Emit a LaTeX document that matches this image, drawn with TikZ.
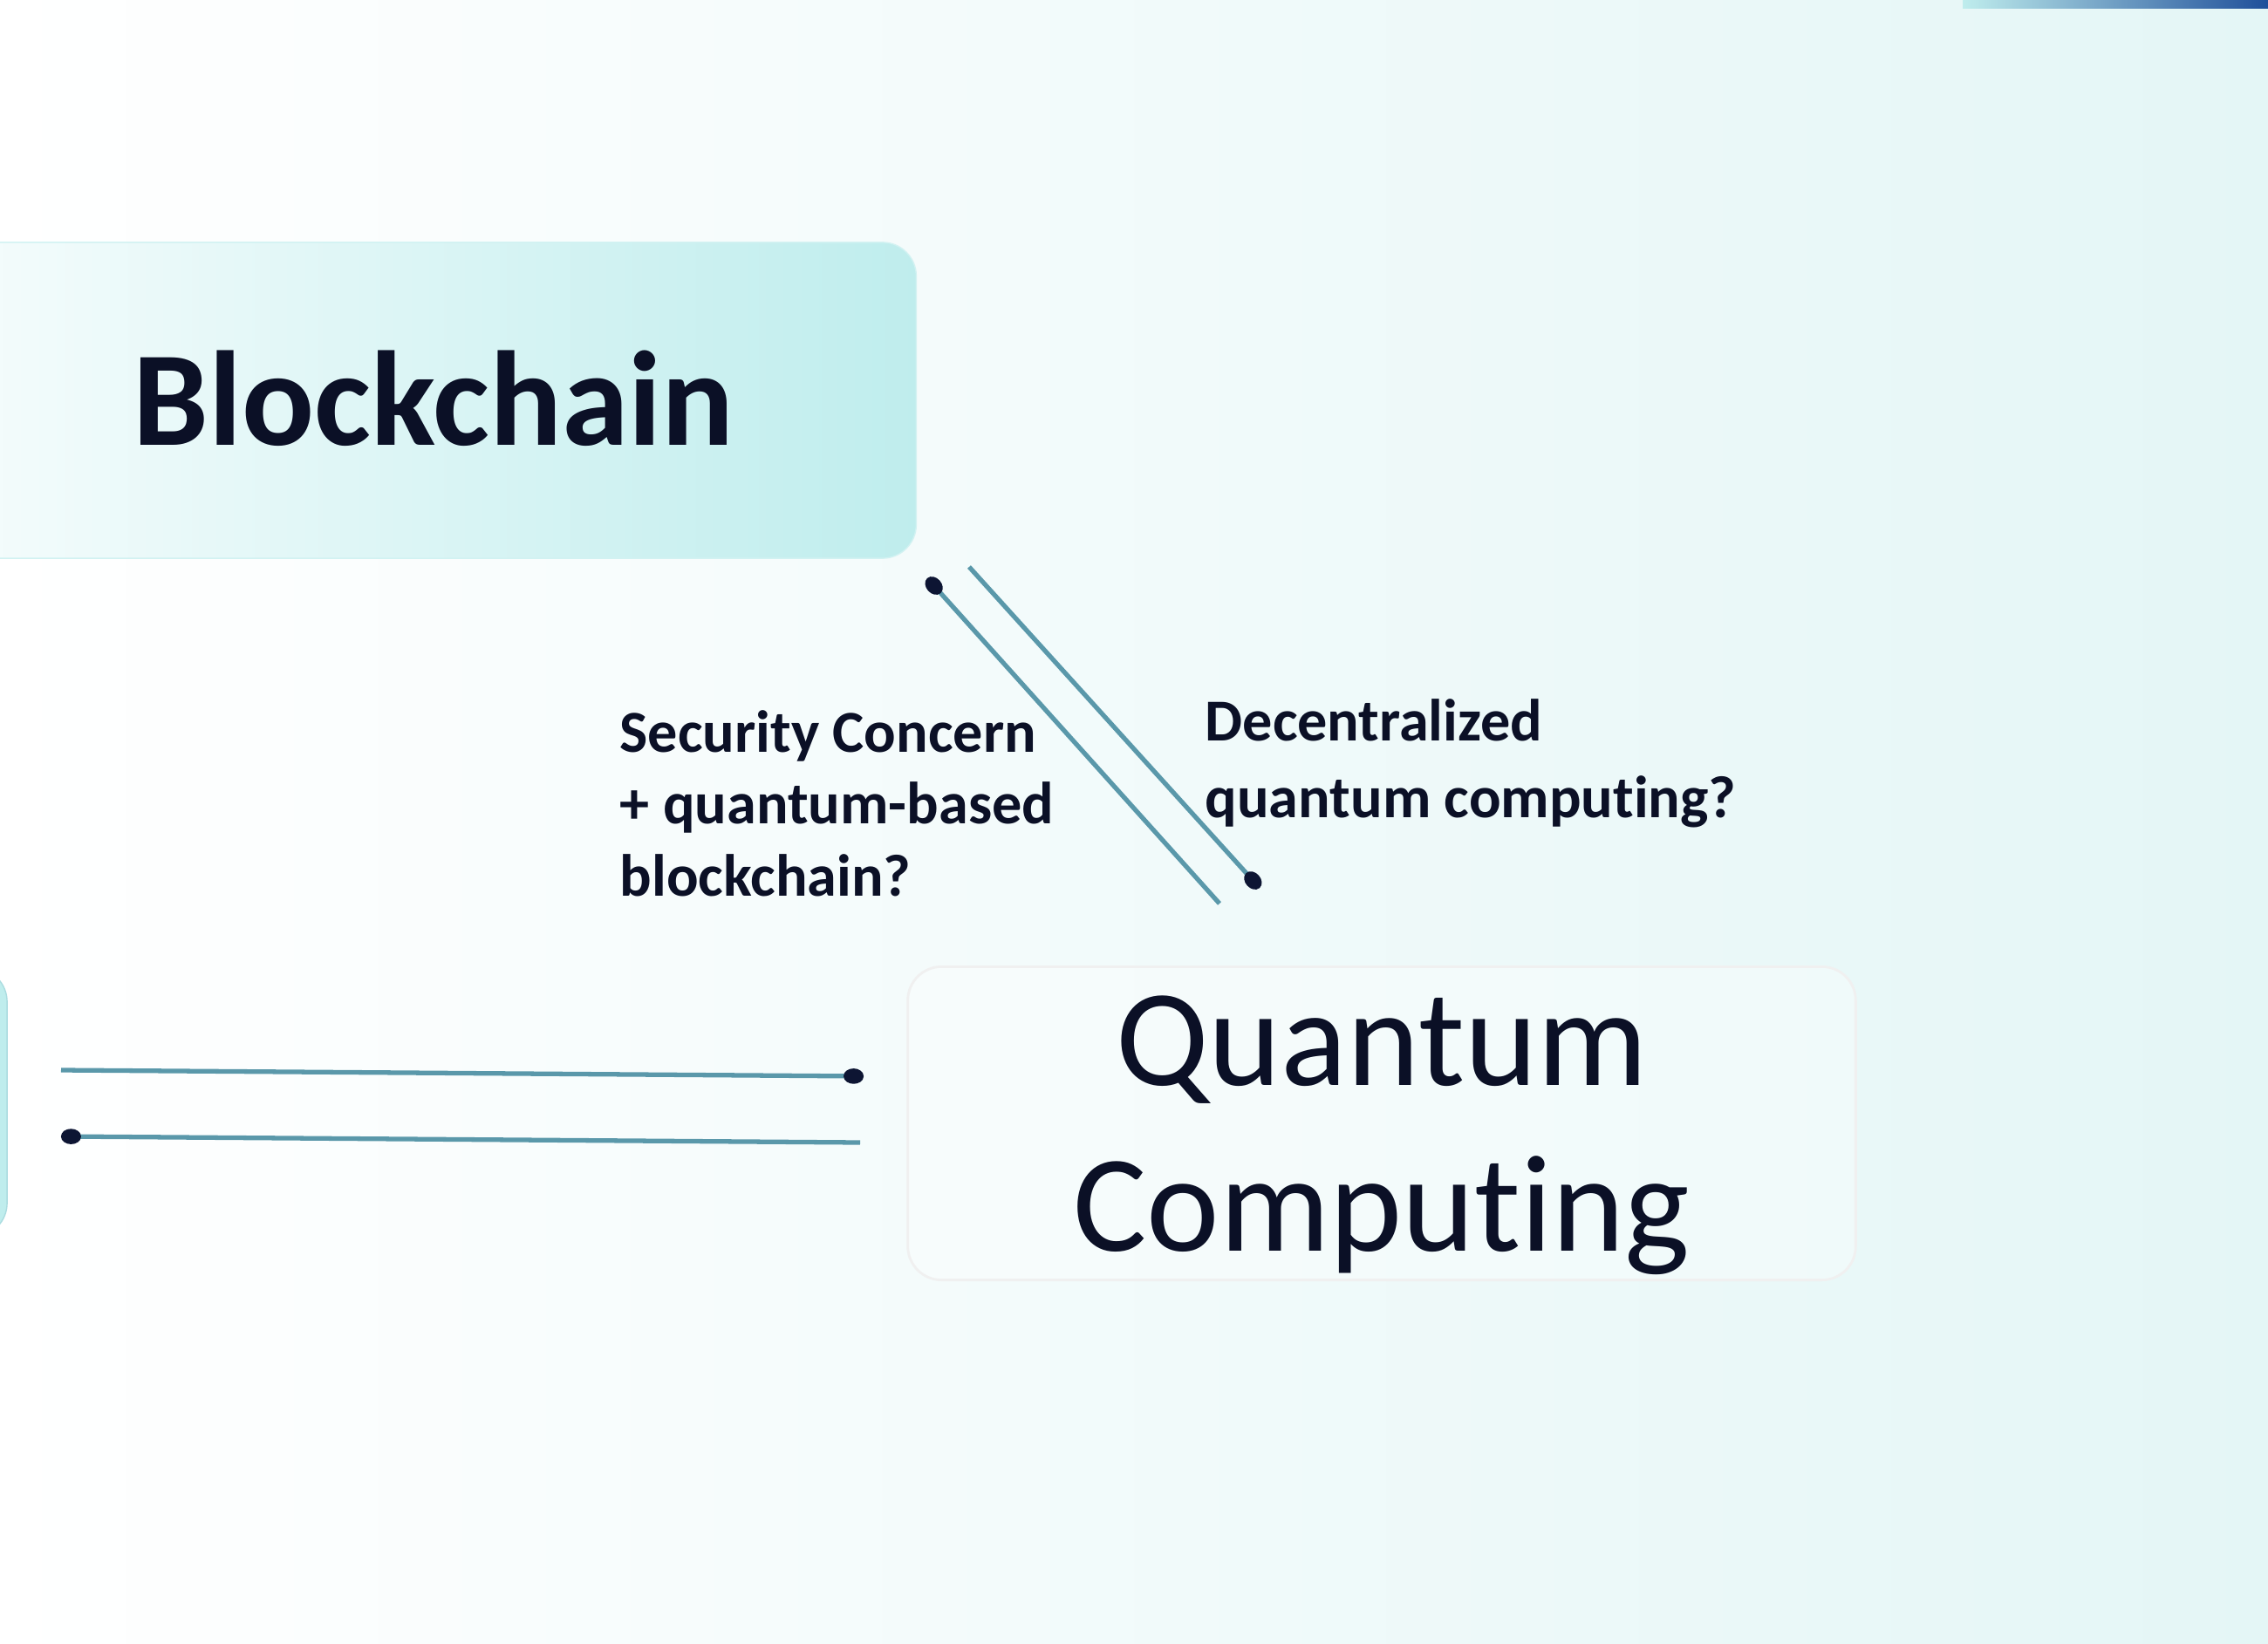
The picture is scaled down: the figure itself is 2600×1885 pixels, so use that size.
\documentclass[tikz,border=0pt]{standalone}
\usepackage{fontspec}
\setmainfont{Carlito}[Ligatures=NoCommon]
\usetikzlibrary{arrows.meta,shadings}
\definecolor{ink}{HTML}{0B1026}
\definecolor{linec}{HTML}{5A98AA}
\definecolor{dotc}{HTML}{0D1533}
\definecolor{boxcyan}{HTML}{BFEDED}
\definecolor{bgright}{HTML}{E4F6F6}
\definecolor{barblue}{HTML}{1F4F9A}
\begin{document}
\begin{tikzpicture}[x=0.01cm,y=-0.01cm,
  conn/.style={line width=1.5pt, draw=linec, -{Circle[length=6.5pt,width=5pt,fill=dotc,color=dotc]}},
  bigtext/.style={text=ink, inner sep=0pt, font=\fontsize{45}{54}\selectfont},
  labeltext/.style={text=ink, inner sep=0pt, align=left, font=\bfseries\fontsize{19.4}{23.4}\selectfont},
  roundbox/.style={rectangle, rounded corners=11pt, inner sep=0pt}]
\useasboundingbox (0,0) rectangle (2600,1885);
\clip (0,0) rectangle (2600,1885);
\shade[left color=white, right color=bgright] (0,0) rectangle (2600,1885);
\shade[left color=boxcyan, right color=barblue] (2250,0) rectangle (2600,10);

% boxes
\node[roundbox, left color=white, middle color=white!55!boxcyan, right color=boxcyan, draw=boxcyan!70!white,
      minimum width=13cm, minimum height=3.62cm] (bcbox) at (400,459) {};
\node[bigtext, font=\bfseries\fontsize{44}{53}\selectfont] (bc) at (497,457) {Blockchain};

\node[roundbox, fill=white, fill opacity=0.35, draw=gray!12, line width=0.8pt,
      minimum width=10.86cm, minimum height=3.59cm] (qcbox) at (1584,1288) {};
\node[bigtext, align=center] (qc) at (1584,1302) {Quantum\\Computing};

\node[roundbox, fill=boxcyan, draw=boxcyan!80!linec, minimum width=4cm, minimum height=3.08cm] (lbox) at (-192,1264) {};

% connector end points
\coordinate (d1s) at (1398,1036);
\coordinate (d1e) at (1063,663);
\coordinate (d2s) at (1111,650);
\coordinate (d2e) at (1444,1018);
\coordinate (h1s) at (70,1227);
\coordinate (h1e) at (990,1234);
\coordinate (h2s) at (986,1310);
\coordinate (h2e) at (70,1303);

\draw[conn] (d1s) -- (d1e);
\draw[conn] (d2s) -- (d2e);
\draw[conn] (h1s) -- (h1e);
\draw[conn] (h2s) -- (h2e);

% labels
\node[labeltext, anchor=north west] (lab1) at (710,814) {Security Concern\\+ quantum-based\\blockchain?};
\node[labeltext, anchor=north west, font=\bfseries\fontsize{19.4}{25}\selectfont] (lab2) at (1381,801) {Decentralized\\quantum computing?};
\end{tikzpicture}
\end{document}
